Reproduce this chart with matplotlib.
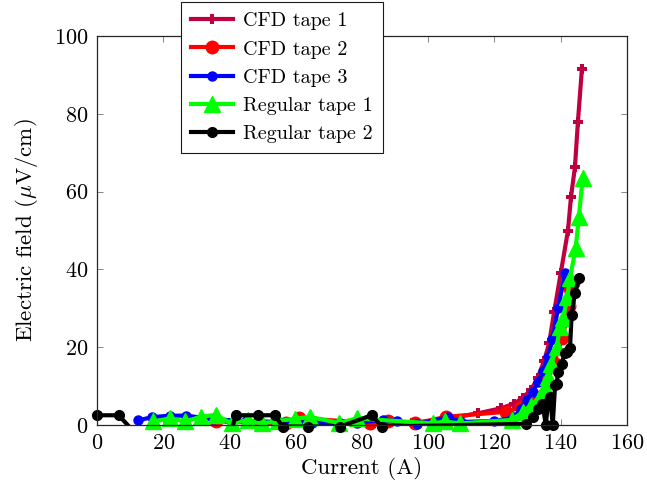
import numpy as np
import matplotlib
matplotlib.use("Agg")
import matplotlib.pyplot as plt

plt.rcParams["font.family"] = "serif"
plt.rcParams["font.serif"] = ["cmr10"]
plt.rcParams["mathtext.fontset"] = "cm"
plt.rcParams["axes.formatter.use_mathtext"] = True

# Electric field (uV/cm) versus current (A) for each tape
cfd1_x = [95, 105, 115, 122, 126, 128.5, 131, 133, 135, 136.5, 138, 140, 142.2, 143.1, 144.3, 145.2, 146.4]
cfd1_y = [0.5, 1.5, 3.0, 4.3, 5.5, 7.0, 9.0, 12.0, 16.5, 21.0, 29.0, 39.0, 50.0, 58.6, 66.3, 78.0, 91.5]

cfd2_x = [36, 57, 61, 82.5, 88, 96, 105.5, 123.5, 128, 131, 133.7, 136, 138, 140.5, 142.6, 142.8, 143.8]
cfd2_y = [0.9, 0.4, 1.8, 0.5, 0.9, 0.4, 2.1, 3.4, 4.5, 5.5, 7.3, 11.0, 16.0, 22.3, 30.5, 35.0, 36.5]

cfd3_x = [12.5, 16.5, 22, 27, 35, 45, 55, 65, 73.4, 78.4, 86.4, 90.5, 96.5, 106, 110, 120, 126, 128,
          129.7, 131.5, 133.2, 134.7, 136.2, 137.5, 139.2, 141.3]
cfd3_y = [1.2, 2.0, 2.4, 2.4, 1.5, 1.0, 0.8, 0.6, 0.4, 0.6, 1.3, 1.0, 0.2, 2.0, 0.8, 1.0, 2.0, 4.0,
          6.4, 8.5, 11.1, 14.0, 17.6, 22.0, 30.0, 39.0]

reg1_x = [17, 22, 26.6, 31.3, 35.8, 40.6, 45.5, 49.7, 54.5, 59.8, 64.3, 73, 78.4, 101.5, 105, 109.6,
          125.2, 128.7, 131, 133.7, 135.2, 136.2, 137.2, 138.8, 139.8, 140.8, 142, 142.8, 144.5, 145.5, 146.6]
reg1_y = [0.9, 1.7, 0.9, 2.1, 2.6, 0.4, 1.3, 0.4, 1.0, 1.6, 2.1, 0.5, 1.7, 0.4, 0.9, 0.4,
          1.3, 3.4, 5.0, 7.3, 9.8, 12.4, 15.8, 20.1, 25.3, 27.4, 33.0, 37.7, 45.4, 53.5, 63.4]

reg2_x = [0, 6.5, 12, 40, 42, 48.7, 53.7, 56, 63.8, 73.4, 82.9, 86, 129.5, 131.5, 133, 134.5, 135.5,
          136.2, 136.8, 137.6, 138.3, 138.8, 139.2, 140.3, 141.2, 141.8, 142.8, 143.3, 144.3, 145.5]
reg2_y = [2.5, 2.5, -2.5, -2.5, 2.5, 2.5, 2.5, -0.4, -0.4, -0.4, 2.5, -0.4, 0.3, 2.0, 4.0, 5.5, 0.0,
          6.0, 7.3, 0.0, 10.3, 10.5, 13.7, 15.8, 18.5, 18.8, 19.7, 28.3, 33.9, 37.7]

series = [
    ("CFD tape 1", cfd1_x, cfd1_y, "#BF0040", dict(marker="P", markersize=7.5, markeredgewidth=0)),
    ("CFD tape 2", cfd2_x, cfd2_y, "#FF0000", dict(marker="o", markersize=9)),
    ("CFD tape 3", cfd3_x, cfd3_y, "#0000FF", dict(marker="o", markersize=6.5)),
    ("Regular tape 1", reg1_x, reg1_y, "#00FF00", dict(marker="^", markersize=11)),
    ("Regular tape 2", reg2_x, reg2_y, "#000000", dict(marker="o", markersize=7)),
]

fig = plt.figure(figsize=(6.47, 4.92), dpi=100)
ax = fig.add_axes([0.150, 0.1362, 0.819, 0.7906])

handles = []
for label, xs, ys, color, mk in series:
    xs = np.asarray(xs, float)
    ys = np.asarray(ys, float)
    line, = ax.plot(xs, ys, color=color, lw=3.0, label=label, **mk)
    line.set_marker("None")
    # markers are drawn unclipped so that points lying on the axis stay whole
    visible = np.ma.masked_where(ys < -1, ys)
    ax.plot(xs, visible, linestyle="None", color=color, clip_on=False, **mk)
    proxy, = ax.plot([], [], color=color, lw=3.0, **mk)
    handles.append((proxy, label))

ax.set_xlim(0, 160)
ax.set_ylim(0, 100)
ax.set_xticks(np.arange(0, 161, 20))
ax.set_yticks(np.arange(0, 101, 20))
ax.tick_params(direction="in", top=True, right=True, length=4, width=0.6,
               color="0.45", labelsize=16, pad=6)
for sp in ax.spines.values():
    sp.set_linewidth(0.9)
    sp.set_color("0.15")

ax.set_xlabel("Current (A)", fontsize=16.5, labelpad=3)
ax.set_ylabel(r"Electric field ($\mu$V/cm)", fontsize=16.5, labelpad=10)

leg = ax.legend([h for h, _ in handles], [l for _, l in handles],
                loc="upper left", bbox_to_anchor=(0.158, 1.087), fontsize=14.5,
                frameon=True, fancybox=False, framealpha=1, edgecolor="0.1",
                handlelength=2.1, handletextpad=0.5, labelspacing=0.5,
                borderpad=0.5, borderaxespad=0)
leg.get_frame().set_linewidth(0.8)
leg.set_zorder(10)

fig.savefig("out.png", dpi=100)
